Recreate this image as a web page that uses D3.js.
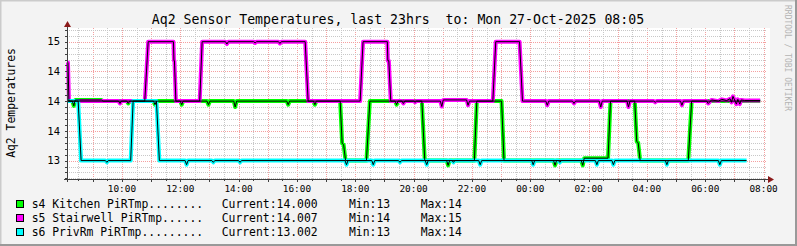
<!DOCTYPE html>
<html>
<head>
<meta charset="utf-8">
<script src="https://cdn.jsdelivr.net/npm/d3@7"></script>
<style>
  html, body { margin: 0; padding: 0; background: #F3F3F3; }
  svg { display: block; }
  text { font-family: "DejaVu Sans Mono", monospace; }
</style>
</head>
<body>
<div id="chart"></div>
<script>

// ---------- data ----------
const titleText = "Aq2 Sensor Temperatures, last 23hrs  to: Mon 27-Oct-2025 08:05";
const yAxisTitle = "Aq2 Temperatures";
const watermark = "RRDTOOL / TOBI OETIKER";

const startTime = "26 08:07";
const endTime = "27 08:07";

const yTickValues = [13, 13.5, 14, 14.5, 15];
const yTickLabels = ["13", "14", "14", "14", "15"];

const seriesNames = ["s4 Kitchen PiRTmp........", "s5 Stairwell PiRTmp......", "s6 PrivRm PiRTmp........."];
const seriesColors = ["#00FF00", "#FF00FF", "#00FFFF"];
const currentValues = ["14.000", "14.007", "13.002"];
const minValues = ["13", "14", "13"];
const maxValues = ["14", "15", "14"];

const kitchenPts = [
  ["26 08:07", 14.00], ["26 08:18", 14.00], ["26 08:21", 13.92], ["26 08:24", 14.02],
  ["26 09:18", 14.02], ["26 09:21", 14.00], ["26 10:10", 14.00], ["26 10:13", 13.96],
  ["26 10:16", 14.00], ["26 11:05", 14.00], ["26 11:08", 13.94], ["26 11:11", 14.00],
  ["26 12:00", 14.00], ["26 12:03", 13.94], ["26 12:06", 14.00], ["26 12:55", 14.00],
  ["26 12:58", 13.94], ["26 13:01", 14.00], ["26 13:50", 14.00], ["26 13:53", 13.90],
  ["26 13:56", 14.00], ["26 15:39", 14.00], ["26 15:42", 13.94], ["26 15:45", 14.00],
  ["26 16:34", 14.00], ["26 16:37", 13.94], ["26 16:40", 14.00], ["26 17:29", 14.00],
  ["26 17:33", 13.29], ["26 17:36", 13.27], ["26 17:40", 13.00], ["26 18:23", 13.00],
  ["26 18:30", 14.00], ["26 19:22", 14.00], ["26 19:25", 13.94], ["26 19:28", 14.00],
  ["26 20:17", 14.00], ["26 20:23", 13.00], ["26 21:08", 13.00], ["26 21:11", 12.92],
  ["26 21:14", 13.00], ["26 22:05", 13.00], ["26 22:10", 14.00], ["26 23:01", 14.00],
  ["26 23:06", 13.00], ["27 00:48", 13.00], ["27 00:51", 12.92], ["27 00:54", 13.00],
  ["27 01:45", 13.00], ["27 01:48", 12.92], ["27 01:51", 13.04], ["27 02:40", 13.04],
  ["27 02:45", 14.00], ["27 03:35", 14.00], ["27 03:39", 13.32], ["27 03:42", 13.30],
  ["27 03:46", 13.00], ["27 05:25", 13.00], ["27 05:32", 14.00], ["27 07:53", 14.00]
];

const stairwellPts = [
  ["26 08:07", 14.65], ["26 08:09", 14.65], ["26 08:11", 14.00], ["26 09:53", 14.00],
  ["26 09:56", 13.96], ["26 09:59", 14.00], ["26 10:47", 14.00], ["26 10:54", 15.00],
  ["26 11:46", 15.00], ["26 11:47", 14.68], ["26 11:48", 14.68], ["26 11:51", 14.00],
  ["26 12:40", 14.00], ["26 12:45", 15.00], ["26 13:33", 15.00], ["26 13:36", 14.96],
  ["26 13:39", 15.00], ["26 14:31", 15.00], ["26 14:34", 14.98], ["26 14:37", 15.00],
  ["26 15:22", 15.00], ["26 15:25", 14.97], ["26 15:28", 15.00], ["26 16:17", 15.00],
  ["26 16:23", 14.00], ["26 18:10", 14.00], ["26 18:16", 15.00], ["26 19:06", 15.00],
  ["26 19:07", 14.68], ["26 19:09", 14.68], ["26 19:13", 14.00], ["26 19:36", 14.00],
  ["26 19:39", 13.96], ["26 19:42", 14.00], ["26 20:00", 14.00], ["26 20:03", 13.98],
  ["26 20:06", 14.00], ["26 20:55", 14.00], ["26 20:58", 13.91], ["26 21:01", 14.02],
  ["26 21:49", 14.02], ["26 21:52", 13.93], ["26 21:55", 14.00], ["26 22:43", 14.00],
  ["26 22:49", 15.00], ["26 23:38", 15.00], ["26 23:44", 14.00], ["27 00:32", 14.00],
  ["27 00:35", 13.93], ["27 00:38", 14.00], ["27 01:27", 14.00], ["27 01:30", 13.96],
  ["27 01:33", 14.00], ["27 02:22", 14.00], ["27 02:25", 13.90], ["27 02:28", 14.00],
  ["27 03:19", 14.00], ["27 03:22", 13.90], ["27 03:25", 14.00], ["27 04:14", 14.00],
  ["27 04:17", 13.98], ["27 04:20", 14.00], ["27 05:09", 14.00], ["27 05:12", 13.93],
  ["27 05:15", 14.00], ["27 06:03", 14.00], ["27 06:06", 13.96], ["27 06:13", 14.02],
  ["27 06:27", 14.00], ["27 06:34", 14.03], ["27 06:44", 14.01], ["27 06:51", 14.04],
  ["27 06:54", 13.98], ["27 06:57", 14.08], ["27 07:04", 13.95], ["27 07:07", 14.03],
  ["27 07:11", 13.95], ["27 07:14", 14.02], ["27 07:21", 14.01], ["27 07:53", 14.01]
];

const privRmPts = [
  ["26 08:07", 14.00], ["26 08:30", 14.00], ["26 08:36", 13.00], ["26 09:26", 13.00],
  ["26 09:29", 12.97], ["26 09:32", 13.00], ["26 10:18", 13.00], ["26 10:23", 14.00],
  ["26 11:11", 14.00], ["26 11:17", 13.00], ["26 12:10", 13.00], ["26 12:13", 12.93],
  ["26 12:16", 13.00], ["26 13:05", 13.00], ["26 13:08", 12.97], ["26 13:11", 13.00],
  ["26 14:00", 13.00], ["26 14:03", 12.97], ["26 14:06", 13.00], ["26 17:39", 13.00],
  ["26 17:42", 12.93], ["26 17:45", 13.00], ["26 18:34", 13.00], ["26 18:37", 12.93],
  ["26 18:40", 13.00], ["26 19:29", 13.00], ["26 19:32", 12.97], ["26 19:35", 13.00],
  ["26 20:24", 13.00], ["26 20:27", 12.93], ["26 20:30", 13.00], ["26 21:19", 13.00],
  ["26 21:22", 12.97], ["26 21:25", 13.00], ["26 22:14", 13.00], ["26 22:17", 12.93],
  ["26 22:20", 13.00], ["27 00:03", 13.00], ["27 00:06", 12.93], ["27 00:09", 13.00],
  ["27 00:58", 13.00], ["27 01:01", 12.97], ["27 01:04", 13.00], ["27 02:14", 13.00],
  ["27 02:17", 12.93], ["27 02:20", 13.00], ["27 02:48", 13.00], ["27 02:51", 12.93],
  ["27 02:54", 13.00], ["27 04:38", 13.00], ["27 04:41", 12.93], ["27 04:44", 13.00],
  ["27 06:27", 13.00], ["27 06:30", 12.93], ["27 06:33", 13.00], ["27 07:25", 13.00]
];

const allSeries = [kitchenPts, stairwellPts, privRmPts];

// ---------- layout ----------
const width = 797, height = 246;
const plotLeft = 67, plotRight = 767, plotTop = 28, plotBottom = 179;

const parseT = d3.timeParse("%d %H:%M");

const svg = d3.select("#chart").append("svg")
  .attr("width", width)
  .attr("height", height);

// background + bevel frame
svg.append("rect").attr("width", width).attr("height", height).attr("fill", "#F3F3F3");
svg.append("path").attr("d", `M0.5,${height} V0.5 H${width}`).attr("fill", "none")
  .attr("stroke", "#CBCBCB").attr("stroke-width", 2);
svg.append("path").attr("d", `M${width - 1},0 V${height - 1} H0`).attr("fill", "none")
  .attr("stroke", "#999999").attr("stroke-width", 2);

const x = d3.scaleTime()
  .domain([parseT(startTime), parseT(endTime)])
  .range([plotLeft, plotRight]);

const y = d3.scaleLinear()
  .domain([12.69, 15.23])
  .range([plotBottom, plotTop]);

// plot canvas
svg.append("rect")
  .attr("x", plotLeft).attr("y", plotTop)
  .attr("width", plotRight - plotLeft + 3).attr("height", plotBottom - plotTop)
  .attr("fill", "#FFFFFF");

// ---------- grid ----------
const grid = svg.append("g").attr("shape-rendering", "crispEdges");

const halfHours = x.ticks(d3.timeMinute.every(30)).filter(d => d.getMinutes() != 0);
const hours = x.ticks(d3.timeHour.every(1));

grid.selectAll(".vmin").data(halfHours).enter().append("line")
  .attr("x1", d => Math.round(x(d)) + 0.5).attr("x2", d => Math.round(x(d)) + 0.5)
  .attr("y1", plotTop).attr("y2", plotBottom)
  .attr("stroke", "#C8C8C8").attr("stroke-dasharray", "1,1");

grid.selectAll(".vmaj").data(hours).enter().append("line")
  .attr("x1", d => Math.round(x(d)) + 0.5).attr("x2", d => Math.round(x(d)) + 0.5)
  .attr("y1", plotTop).attr("y2", plotBottom)
  .attr("stroke", "#F4A0A0").attr("stroke-dasharray", "1,1");

const minorY = d3.range(127, 153).map(v => v / 10).filter(v => !yTickValues.includes(v));

grid.selectAll(".hmin").data(minorY).enter().append("line")
  .attr("x1", plotLeft).attr("x2", plotRight)
  .attr("y1", d => Math.round(y(d)) + 0.5).attr("y2", d => Math.round(y(d)) + 0.5)
  .attr("stroke", "#C8C8C8").attr("stroke-dasharray", "1,1");

grid.selectAll(".hmaj").data(yTickValues).enter().append("line")
  .attr("x1", plotLeft).attr("x2", plotRight)
  .attr("y1", d => Math.round(y(d)) + 0.5).attr("y2", d => Math.round(y(d)) + 0.5)
  .attr("stroke", "#F4A0A0").attr("stroke-dasharray", "1,1");

// ---------- lines ----------
const line = d3.line()
  .x(d => x(parseT(d[0])))
  .y(d => y(d[1]));

allSeries.forEach(function (pts, i) {
  svg.append("path")
    .datum(pts)
    .attr("fill", "none")
    .attr("stroke", seriesColors[i])
    .attr("stroke-width", 4)
    .attr("stroke-linejoin", "round")
    .attr("d", line);
});

allSeries.forEach(function (pts) {
  svg.append("path")
    .datum(pts)
    .attr("fill", "none")
    .attr("stroke", "#000000")
    .attr("stroke-width", 1)
    .attr("d", line);
});

// ---------- axes ----------
const axisColor = "#404040";
const ax = svg.append("g").attr("shape-rendering", "crispEdges");

ax.append("line").attr("x1", plotLeft - 3).attr("x2", plotRight + 2)
  .attr("y1", plotBottom + 0.5).attr("y2", plotBottom + 0.5).attr("stroke", axisColor);
ax.append("line").attr("x1", plotLeft + 0.5).attr("x2", plotLeft + 0.5)
  .attr("y1", plotTop - 2).attr("y2", plotBottom + 3).attr("stroke", axisColor);

ax.selectAll(".xt").data(halfHours.concat(hours)).enter().append("line")
  .attr("x1", d => Math.round(x(d)) + 0.5).attr("x2", d => Math.round(x(d)) + 0.5)
  .attr("y1", plotBottom).attr("y2", d => d.getMinutes() == 0 ? plotBottom + 3 : plotBottom + 2)
  .attr("stroke", axisColor);

ax.selectAll(".yt").data(minorY.concat(yTickValues)).enter().append("line")
  .attr("x1", plotLeft - 2).attr("x2", plotLeft)
  .attr("y1", d => Math.round(y(d)) + 0.5).attr("y2", d => Math.round(y(d)) + 0.5)
  .attr("stroke", axisColor);

// arrows
svg.append("path").attr("d", `M${plotRight + 1},${plotBottom - 3} L${plotRight + 7},${plotBottom + 0.5} L${plotRight + 1},${plotBottom + 4} Z`)
  .attr("fill", "#8B1A1A");
svg.append("path").attr("d", `M${plotLeft - 3},${plotTop - 1} L${plotLeft + 0.5},${plotTop - 7} L${plotLeft + 4},${plotTop - 1} Z`)
  .attr("fill", "#8B1A1A");

// tick labels
const fmt = d3.timeFormat("%H:%M");
svg.selectAll(".xl").data(x.ticks(d3.timeHour.every(2))).enter().append("text")
  .attr("x", d => x(d))
  .attr("y", 192)
  .attr("text-anchor", "middle")
  .attr("font-size", "9.4px")
  .attr("fill", "#000")
  .text(d => fmt(d));

svg.selectAll(".yl").data(yTickValues).enter().append("text")
  .attr("x", 60)
  .attr("y", d => y(d) + 3.8)
  .attr("text-anchor", "end")
  .attr("font-size", "10.5px")
  .attr("fill", "#000")
  .text((d, i) => yTickLabels[i]);

// titles
svg.append("text")
  .attr("x", 398).attr("y", 24)
  .attr("text-anchor", "middle")
  .attr("font-size", "13.2px")
  .style("white-space", "pre")
  .attr("fill", "#000")
  .text(titleText);

svg.append("text")
  .attr("transform", "translate(15,103) rotate(-90)")
  .attr("text-anchor", "middle")
  .attr("font-size", "11.4px")
  .attr("fill", "#000")
  .text(yAxisTitle);

svg.append("text")
  .attr("transform", "translate(785,5) rotate(90)")
  .attr("font-size", "8px")
  .attr("fill", "#B4B4B4")
  .style("white-space", "pre")
  .text(watermark);

// ---------- legend ----------
const leg = svg.append("g");
seriesNames.forEach(function (name, i) {
  const cy = 204 + i * 14.2;
  leg.append("rect")
    .attr("x", 16.5).attr("y", Math.round(cy - 4) + 0.5)
    .attr("width", 7).attr("height", 7)
    .attr("fill", seriesColors[i])
    .attr("stroke", "#000").attr("stroke-width", 1);
  const by = cy + 4;
  leg.append("text").attr("x", 31.7).attr("y", by).attr("font-size", "11.4px").text(name);
  leg.append("text").attr("x", 221.7).attr("y", by).attr("font-size", "11.4px").text("Current:" + currentValues[i]);
  leg.append("text").attr("x", 349).attr("y", by).attr("font-size", "11.4px").text("Min:" + minValues[i]);
  leg.append("text").attr("x", 420.7).attr("y", by).attr("font-size", "11.4px").text("Max:" + maxValues[i]);
});

</script>
</body>
</html>
